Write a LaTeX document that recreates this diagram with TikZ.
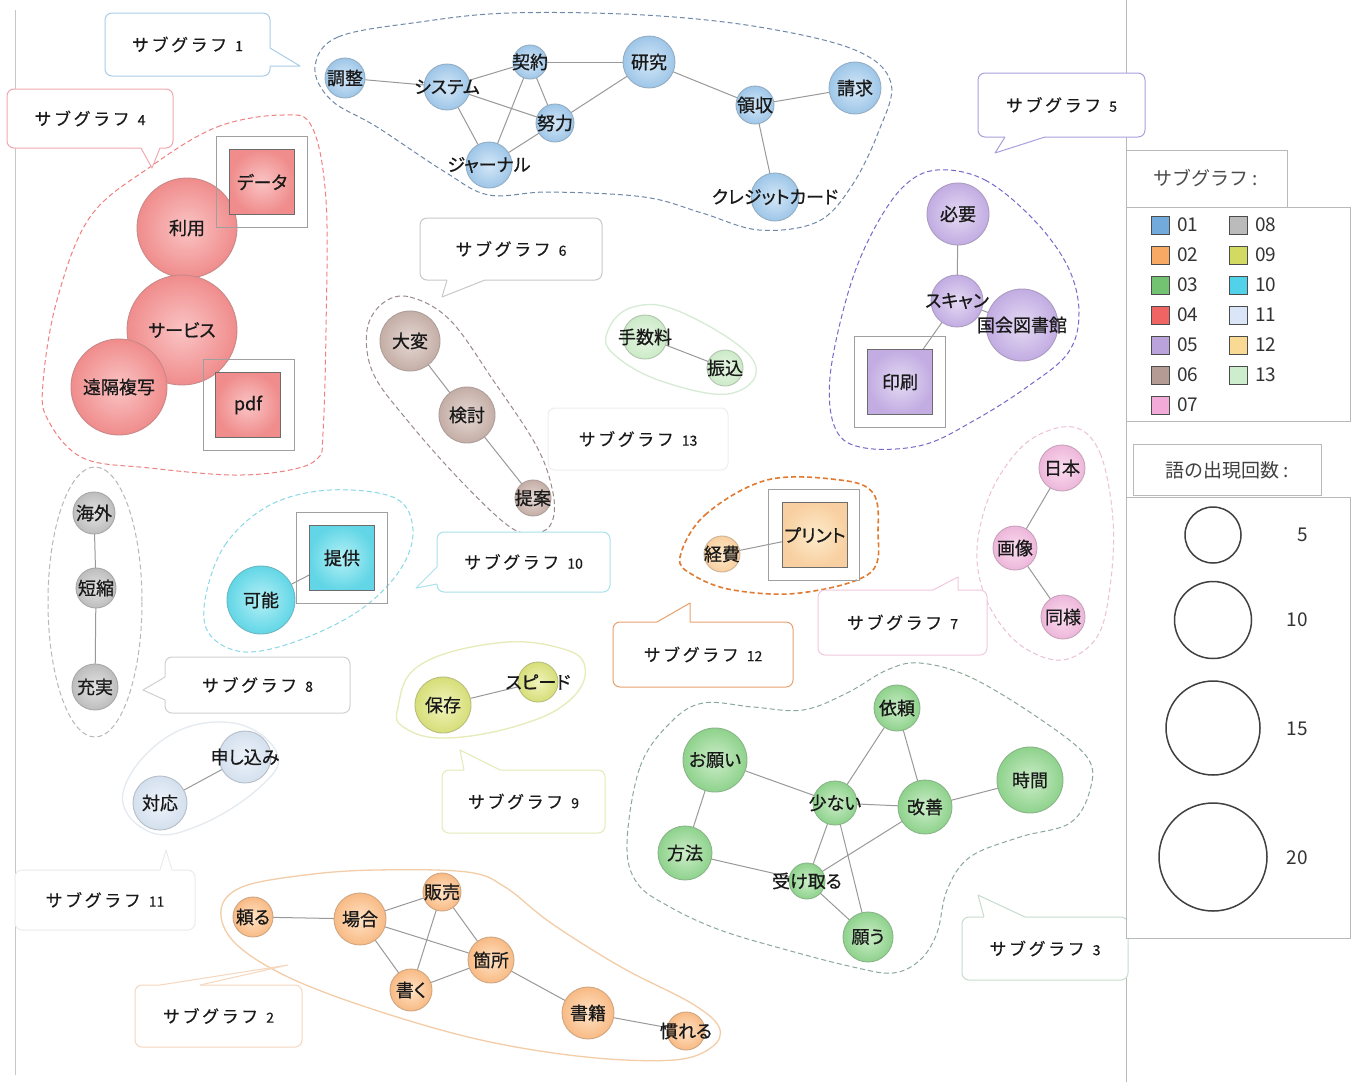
\documentclass[tikz,border=0pt]{standalone}
\usepackage{fontspec}
\setmainfont{Noto Sans CJK JP}[RawFeature=+palt]
\newfontfamily\nfont{Noto Sans CJK JP}[RawFeature=+palt, FakeBold=0.7]
\newfontfamily\cfont{Noto Sans CJK JP}[LetterSpace=15, FakeBold=0.3]
\newfontfamily\dfont{Noto Sans CJK JP}[FakeBold=0.5]
\newfontfamily\lfont{Noto Sans CJK JP}
\pgfdeclarelayer{bg}
\pgfsetlayers{bg,main}
% node colours (inner / outer)
\definecolor{c01i}{HTML}{D4E7F7}\definecolor{c01o}{HTML}{9EC6E8}
\definecolor{c02i}{HTML}{FFE3C6}\definecolor{c02o}{HTML}{F8BA84}
\definecolor{c03i}{HTML}{CDEDC9}\definecolor{c03o}{HTML}{8ED28C}
\definecolor{c04i}{HTML}{FAC4C4}\definecolor{c04o}{HTML}{F08C8C}
\definecolor{c05i}{HTML}{E4DAF3}\definecolor{c05o}{HTML}{C2ACE2}
\definecolor{c06i}{HTML}{E6D8D4}\definecolor{c06o}{HTML}{C4AEA6}
\definecolor{c07i}{HTML}{FADDEF}\definecolor{c07o}{HTML}{EDB6DA}
\definecolor{c08i}{HTML}{E2E2E2}\definecolor{c08o}{HTML}{BDBDBD}
\definecolor{c09i}{HTML}{F0F3BC}\definecolor{c09o}{HTML}{D6DE78}
\definecolor{c10i}{HTML}{B4F0F6}\definecolor{c10o}{HTML}{62D6E6}
\definecolor{c11i}{HTML}{EEF3FA}\definecolor{c11o}{HTML}{D4E0EE}
\definecolor{c12i}{HTML}{FDEBCB}\definecolor{c12o}{HTML}{F8CFA0}
\definecolor{c13i}{HTML}{E8F6E5}\definecolor{c13o}{HTML}{CBEAC7}
% legend square colours
\definecolor{L01}{HTML}{72AADC}\definecolor{L02}{HTML}{F8AA64}
\definecolor{L03}{HTML}{72C272}\definecolor{L04}{HTML}{F06464}
\definecolor{L05}{HTML}{BAA2DA}\definecolor{L06}{HTML}{B49C94}
\definecolor{L07}{HTML}{F2AAD8}\definecolor{L08}{HTML}{BBBBBB}
\definecolor{L09}{HTML}{D2DA62}\definecolor{L10}{HTML}{52D2E8}
\definecolor{L11}{HTML}{DAE6F8}\definecolor{L12}{HTML}{F8DA94}
\definecolor{L13}{HTML}{CCEECC}
% blob colours
\definecolor{b1}{HTML}{7088A8}\definecolor{b2}{HTML}{F3CCA8}
\definecolor{b3}{HTML}{8CA898}\definecolor{b4}{HTML}{F08080}
\definecolor{b5}{HTML}{7868C8}\definecolor{b6}{HTML}{9A8A88}
\definecolor{b7}{HTML}{ECC0D8}\definecolor{b8}{HTML}{B8B8B8}
\definecolor{b9}{HTML}{E6EBB8}\definecolor{b10}{HTML}{88D8E6}
\definecolor{b11}{HTML}{E4EAF0}\definecolor{b12}{HTML}{E07A30}
\definecolor{b13}{HTML}{D6EBD3}
% callout border colours
\definecolor{k1}{HTML}{A8CDE8}\definecolor{k2}{HTML}{F6D6BC}
\definecolor{k3}{HTML}{C8DCCC}\definecolor{k4}{HTML}{F0A8B0}
\definecolor{k5}{HTML}{A8A0DC}\definecolor{k6}{HTML}{C8C8C8}
\definecolor{k7}{HTML}{F2C8DC}\definecolor{k8}{HTML}{D0D0D0}
\definecolor{k9}{HTML}{E4EAB8}\definecolor{k10}{HTML}{A8E2EA}
\definecolor{k11}{HTML}{EBEBEB}\definecolor{k12}{HTML}{E8A070}
\definecolor{k13}{HTML}{EEEEEE}
\tikzset{
 wn/.style={circle, inner sep=0pt, draw=#1o!65!gray, line width=0.9pt, inner color=#1i, outer color=#1o},
 sqn/.style={rectangle, inner sep=0pt, minimum size=65pt, draw=gray!85!black, line width=0.9pt, inner color=#1i, outer color=#1o, font=\nfont\fontsize{18}{20}\selectfont, text=black!90},
 osq/.style={rectangle, draw=gray!75, line width=1.2pt, minimum size=91pt, inner sep=0pt},
 lb/.style={font=\nfont\fontsize{18}{20}\selectfont, text=black!90, inner sep=0pt},
 link/.style={draw=gray!80, line width=1pt},
 blob/.style={line width=1pt, dash pattern=on 5pt off 3pt},
 fblob/.style={line width=1.3pt},
 cbox/.style={draw=#1, fill=white, rounded corners=7pt, line width=1pt, inner sep=0pt, font=\cfont\fontsize{17}{20}\selectfont, text=black!90},
 lgbox/.style={draw=gray!55, line width=0.8pt},
 lsq/.style={rectangle, draw=gray!60!black, line width=0.8pt, minimum size=18pt, inner sep=0pt},
 ltx/.style={font=\lfont\fontsize{19}{22}\selectfont, text=black!80, inner sep=0pt},
 lcirc/.style={circle, draw=black!75, line width=1.5pt, inner sep=0pt},
}
\newcommand\sg[1]{サブグラフ\hspace{8pt}{\dfont\fontsize{14}{16}\selectfont #1}}
\newcommand\tail[6]{%
 \fill[white] #2 -- #3 -- #4 -- #6 -- #5 -- cycle;
 \draw[#1, line width=1pt, line join=round] #2 -- #3 -- #4;}
\begin{document}
\begin{tikzpicture}[x=1pt,y=-1pt]
\useasboundingbox (0,0) rectangle (1357,1082);
\begin{pgfonlayer}{bg}
\fill[white] (0,0) rectangle (1357,1082);
\draw[gray!45, line width=1pt] (15,10) -- (15,1075);
\draw[gray!55, line width=1pt] (1126,0) -- (1126,1082);
% blobs
\draw[blob, b1] plot[smooth cycle, tension=0.6] coordinates {(315,67) (338,37) (420,22) (510,13) (644,15) (759,27) (855,50) (891,83) (878,133) (851,187) (817,222) (759,230) (702,213) (644,197) (549,192) (489,195) (445,172) (377,127) (331,100)};
\draw[blob, b4] plot[smooth cycle, tension=0.6] coordinates {(150,167) (217,127) (283,115) (312,127) (326,200) (326,330) (323,433) (318,458) (290,470) (233,475) (150,468) (83,458) (48,420) (43,383) (57,300) (90,217)};
\draw[blob, b6] plot[smooth cycle, tension=0.6] coordinates {(383,303) (410,297) (450,320) (493,380) (537,447) (553,493) (552,522) (537,533) (510,527) (460,480) (407,420) (373,373) (367,330)};
\draw[fblob, b13] plot[smooth cycle, tension=0.7] coordinates {(607,333) (633,307) (683,313) (753,360) (733,393) (667,383) (617,357)};
\draw[blob, b10] plot[smooth cycle, tension=0.6] coordinates {(205,600) (225,545) (270,505) (330,490) (395,498) (413,530) (400,570) (360,610) (300,640) (245,652) (210,635)};
\draw[blob, b8] (95,602) ellipse [x radius=47, y radius=135];
\draw[fblob, b11] plot[smooth cycle, tension=0.7] coordinates {(123,793) (167,737) (233,723) (277,753) (260,787) (200,825) (150,832)};
\draw[fblob, b9] plot[smooth cycle, tension=0.7] coordinates {(398,707) (420,665) (497,643) (560,648) (585,667) (570,700) (520,725) (447,738) (405,728)};
\draw[blob, b12, line width=1.6pt] plot[smooth cycle, tension=0.6] coordinates {(680,557) (705,515) (767,480) (840,480) (873,493) (878,530) (870,573) (800,593) (733,590) (693,575)};
\draw[blob, b7] plot[smooth cycle, tension=0.6] coordinates {(1073,427) (1100,453) (1113,520) (1110,587) (1097,637) (1063,660) (1023,647) (993,613) (978,570) (980,527) (997,480) (1030,440)};
\draw[blob, b5] plot[smooth cycle, tension=0.6] coordinates {(937,170) (985,180) (1034,220) (1068,267) (1079,313) (1068,353) (1027,387) (975,420) (923,445) (865,448) (836,430) (830,377) (848,293) (872,233) (903,187)};
\draw[blob, b3] plot[smooth cycle, tension=0.6] coordinates {(627,843) (640,767) (670,723) (703,703) (753,707) (803,710) (847,693) (887,670) (920,663) (970,677) (1037,717) (1087,757) (1090,790) (1070,823) (1020,837) (970,857) (947,890) (937,933) (920,960) (893,973) (853,967) (787,950) (720,930) (670,907) (637,883)};
\draw[fblob, b2] plot[smooth cycle, tension=0.6] coordinates {(221,910) (242,887) (305,875) (375,870) (467,872) (505,887) (551,923) (621,967) (691,1003) (719,1027) (712,1047) (674,1060) (586,1057) (481,1040) (375,1010) (288,977) (235,943)};
\end{pgfonlayer}

% ---------- subgraph 1
\node[wn=c01, minimum size=40pt, label={[lb]center:調整}] (chosei) at (345,78) {};
\node[wn=c01, minimum size=46pt, label={[lb]center:システム}] (system) at (447,87) {};
\node[wn=c01, minimum size=34pt, label={[lb]center:契約}] (keiyaku) at (530,62) {};
\node[wn=c01, minimum size=52pt, label={[lb]center:研究}] (kenkyu) at (649,62) {};
\node[wn=c01, minimum size=38pt, label={[lb]center:努力}] (doryoku) at (555,123) {};
\node[wn=c01, minimum size=46pt, label={[lb]center:ジャーナル}] (journal) at (489,165) {};
\node[wn=c01, minimum size=38pt, label={[lb]center:領収}] (ryoshu) at (755,105) {};
\node[wn=c01, minimum size=52pt, label={[lb]center:請求}] (seikyu) at (855,88) {};
\node[wn=c01, minimum size=48pt, label={[lb]center:クレジットカード}] (credit) at (775,197) {};
% ---------- subgraph 4
\node[wn=c04, minimum size=100pt, label={[lb]center:利用}] (riyo) at (187,228) {};
\node[wn=c04, minimum size=110pt, label={[lb]center:サービス}] (service) at (182,330) {};
\node[wn=c04, minimum size=96pt, label={[lb]center:遠隔複写}] (enkaku) at (119,387) {};
\node[osq] (dataO) at (262,182) {};
\node[sqn=c04] (data) at (262,182) {データ};
\node[osq] (pdfO) at (249,405) {};
\node[sqn=c04] (pdf) at (248,405) {pdf};
% ---------- subgraph 6
\node[wn=c06, minimum size=60pt, label={[lb]center:大変}] (taihen) at (410,341) {};
\node[wn=c06, minimum size=56pt, label={[lb]center:検討}] (kento) at (467,415) {};
\node[wn=c06, minimum size=36pt, label={[lb]center:提案}] (teian) at (533,498) {};
% ---------- subgraph 13
\node[wn=c13, minimum size=44pt, label={[lb]center:手数料}] (tesuryo) at (645,337) {};
\node[wn=c13, minimum size=36pt, label={[lb]center:振込}] (furikomi) at (725,368) {};
% ---------- subgraph 10
\node[wn=c10, minimum size=68pt, label={[lb]center:可能}] (kano) at (261,600) {};
\node[osq] (teikyoO) at (342,558) {};
\node[sqn=c10] (teikyo) at (342,558) {提供};
% ---------- subgraph 8
\node[wn=c08, minimum size=42pt, label={[lb]center:海外}] (kaigai) at (94,513) {};
\node[wn=c08, minimum size=40pt, label={[lb]center:短縮}] (tanshuku) at (96,588) {};
\node[wn=c08, minimum size=46pt, label={[lb]center:充実}] (jujitsu) at (95,687) {};
% ---------- subgraph 11
\node[wn=c11, minimum size=52pt, label={[lb]center:申し込み}] (moshikomi) at (245,757) {};
\node[wn=c11, minimum size=54pt, label={[lb]center:対応}] (taio) at (160,803) {};
% ---------- subgraph 9
\node[wn=c09, minimum size=56pt, label={[lb]center:保存}] (hozon) at (443,705) {};
\node[wn=c09, minimum size=40pt, label={[lb]center:スピード}] (speed) at (538,682) {};
% ---------- subgraph 12
\node[wn=c12, minimum size=36pt, label={[lb]center:経費}] (keihi) at (722,554) {};
\node[osq] (printO) at (814,535) {};
\node[sqn=c12] (print) at (815,535) {プリント};
% ---------- subgraph 7
\node[wn=c07, minimum size=46pt, label={[lb]center:日本}] (nihon) at (1062,468) {};
\node[wn=c07, minimum size=44pt, label={[lb]center:画像}] (gazo) at (1015,548) {};
\node[wn=c07, minimum size=44pt, label={[lb]center:同様}] (doyo) at (1063,617) {};
% ---------- subgraph 5
\node[wn=c05, minimum size=62pt, label={[lb]center:必要}] (hitsuyo) at (958,214) {};
\node[wn=c05, minimum size=72pt, label={[lb]center:国会図書館}] (kokkai) at (1022,325) {};
\node[wn=c05, minimum size=52pt, label={[lb]center:スキャン}] (scan) at (957,301) {};
\node[osq] (insatsuO) at (900,382) {};
\node[sqn=c05] (insatsu) at (900,382) {印刷};
% ---------- subgraph 3
\node[wn=c03, minimum size=46pt, label={[lb]center:依頼}] (irai) at (897,708) {};
\node[wn=c03, minimum size=64pt, label={[lb]center:お願い}] (onegai) at (715,760) {};
\node[wn=c03, minimum size=66pt, label={[lb]center:時間}] (jikan) at (1030,780) {};
\node[wn=c03, minimum size=44pt, label={[lb]center:少ない}] (sukunai) at (835,803) {};
\node[wn=c03, minimum size=54pt, label={[lb]center:改善}] (kaizen) at (925,807) {};
\node[wn=c03, minimum size=54pt, label={[lb]center:方法}] (hoho) at (685,853) {};
\node[wn=c03, minimum size=36pt, label={[lb]center:受け取る}] (uketoru) at (807,881) {};
\node[wn=c03, minimum size=50pt, label={[lb]center:願う}] (negau) at (868,937) {};
% ---------- subgraph 2
\node[wn=c02, minimum size=40pt, label={[lb]center:頼る}] (tayoru) at (253,917) {};
\node[wn=c02, minimum size=52pt, label={[lb]center:場合}] (baai) at (360,919) {};
\node[wn=c02, minimum size=38pt, label={[lb]center:販売}] (hanbai) at (442,892) {};
\node[wn=c02, minimum size=46pt, label={[lb]center:箇所}] (kasho) at (491,960) {};
\node[wn=c02, minimum size=42pt, label={[lb]center:書く}] (kaku) at (411,990) {};
\node[wn=c02, minimum size=52pt, label={[lb]center:書籍}] (shoseki) at (588,1013) {};
\node[wn=c02, minimum size=38pt, label={[lb]center:慣れる}] (nareru) at (686,1031) {};

% ---------- edges
\begin{pgfonlayer}{bg}
\foreach \a/\b in {chosei/system, system/keiyaku, system/doryoku, system/journal, keiyaku/kenkyu, keiyaku/doryoku, keiyaku/journal, journal/doryoku, doryoku/kenkyu, kenkyu/ryoshu, ryoshu/seikyu, ryoshu/credit,
 riyo/data, riyo/service, service/enkaku, service/pdf,
 taihen/kento, kento/teian, tesuryo/furikomi, kano/teikyo,
 kaigai/tanshuku, tanshuku/jujitsu, taio/moshikomi, hozon/speed, keihi/print,
 nihon/gazo, gazo/doyo, hitsuyo/scan, scan/insatsu, scan/kokkai,
 irai/sukunai, irai/kaizen, onegai/sukunai, onegai/hoho, sukunai/kaizen, kaizen/jikan, sukunai/uketoru, sukunai/negau, kaizen/uketoru, hoho/uketoru, uketoru/negau,
 tayoru/baai, baai/hanbai, baai/kasho, baai/kaku, hanbai/kaku, hanbai/kasho, kaku/kasho, kasho/shoseki, shoseki/nareru}
 {\draw[link] (\a.center) -- (\b.center);}
\end{pgfonlayer}

% ---------- callouts
\node[cbox=k1, minimum width=165pt, minimum height=63pt] (cl1) at (187.5,44.5) {\sg{1}};
\tail{k1}{(270,48)}{(300,66)}{(270,66)}{(266,48)}{(266,66)}
\node[cbox=k4, minimum width=166pt, minimum height=59pt] (cl4) at (90,118.5) {\sg{4}};
\tail{k4}{(141,148)}{(152,168)}{(160,148)}{(141,144)}{(160,144)}
\node[cbox=k6, minimum width=182pt, minimum height=62pt] (cl6) at (511,249) {\sg{6}};
\tail{k6}{(447,280)}{(442,297)}{(485,280)}{(447,276)}{(485,276)}
\node[cbox=k13, minimum width=180pt, minimum height=62pt] (cl13) at (638,439) {\sg{13}};
\node[cbox=k10, minimum width=173pt, minimum height=60pt] (cl10) at (523.5,562) {\sg{10}};
\tail{k10}{(437,567)}{(416,588)}{(437,584)}{(441,567)}{(441,584)}
\node[cbox=k8, minimum width=185pt, minimum height=56pt] (cl8) at (257.5,685) {\sg{8}};
\tail{k8}{(165,677)}{(143,690)}{(165,700)}{(169,677)}{(169,700)}
\node[cbox=k11, minimum width=180pt, minimum height=60pt] (cl11) at (105,900) {\sg{11}};
\tail{k11}{(160,870)}{(166,850)}{(172,870)}{(160,874)}{(172,874)}
\node[cbox=k9, minimum width=163pt, minimum height=63pt] (cl9) at (523.5,801.5) {\sg{9}};
\tail{k9}{(464,770)}{(460,750)}{(500,770)}{(464,774)}{(500,774)}
\node[cbox=k12, minimum width=180pt, minimum height=65pt] (cl12) at (703,654.5) {\sg{12}};
\tail{k12}{(657,622)}{(690,603)}{(690,622)}{(657,626)}{(690,626)}
\node[cbox=k7, minimum width=169pt, minimum height=65pt] (cl7) at (902.5,622.5) {\sg{7}};
\tail{k7}{(933,590)}{(958,577)}{(958,590)}{(933,594)}{(958,594)}
\node[cbox=k5, minimum width=167pt, minimum height=64pt] (cl5) at (1061.5,105) {\sg{5}};
\tail{k5}{(1005,137)}{(995,153)}{(1045,137)}{(1005,133)}{(1045,133)}
\node[cbox=k3, minimum width=166pt, minimum height=63pt] (cl3) at (1045,948.5) {\sg{3}};
\tail{k3}{(984,917)}{(978,895)}{(1025,917)}{(984,921)}{(1025,921)}
\node[cbox=k2, minimum width=167pt, minimum height=62pt] (cl2) at (218.5,1016) {\sg{2}};
\tail{k2}{(160,985)}{(288,965)}{(200,985)}{(160,989)}{(200,989)}

% ---------- legend: subgraphs
\draw[lgbox, fill=white] (1126,150) rectangle (1287,207);
\node[ltx, text=black!70] (lgh1) at (1206,178) {サブグラフ :};
\draw[lgbox, fill=white] (1126,207) rectangle (1350,421);
\foreach \i/\yy in {01/225, 02/255, 03/285, 04/315, 05/345, 06/375, 07/405}
 {\node[lsq, fill=L\i] (ls\i) at (1160,\yy) {};
  \node[ltx, anchor=west] (lt\i) at (1177,\yy) {\i};}
\foreach \i/\yy in {08/225, 09/255, 10/285, 11/315, 12/345, 13/375}
 {\node[lsq, fill=L\i] (ls\i) at (1238,\yy) {};
  \node[ltx, anchor=west] (lt\i) at (1255,\yy) {\i};}
% ---------- legend: sizes
\draw[lgbox, fill=white] (1133,444) rectangle (1321,495);
\node[ltx, text=black!75] (lgh2) at (1227,470) {語の出現回数 :};
\draw[lgbox, fill=white] (1126,497) rectangle (1350,938);
\node[lcirc, minimum size=56pt] (s5) at (1213,535) {};
\node[lcirc, minimum size=77pt] (s10) at (1213,620) {};
\node[lcirc, minimum size=94pt] (s15) at (1213,728) {};
\node[lcirc, minimum size=108pt] (s20) at (1213,857) {};
\node[ltx] (n5) at (1303,535) {5};
\node[ltx] (n10) at (1297,620) {10};
\node[ltx] (n15) at (1297,729) {15};
\node[ltx] (n20) at (1297,858) {20};
\end{tikzpicture}
\end{document}
